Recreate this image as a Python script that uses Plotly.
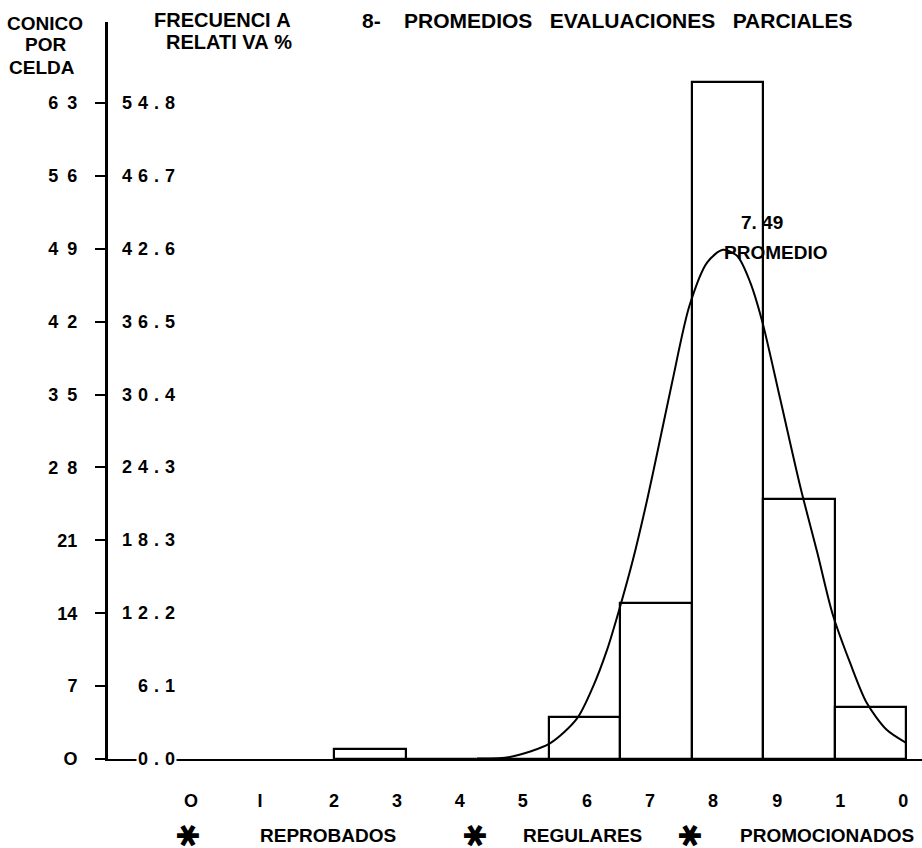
import plotly.graph_objects as go

# ---------------- data ----------------
bin_left = [2, 3, 4, 5, 6, 7, 8, 9]            # class intervals (grade units)
counts = [1, 0, 0, 4, 15, 65, 25, 5]           # cases per cell

curve_x = [4.0, 4.46, 5.02, 5.40, 5.62, 5.82, 6.00, 6.18, 6.38, 6.53, 6.73, 6.97,
           7.22, 7.44, 7.64, 7.82, 7.99, 8.24, 8.52, 8.76, 8.97, 9.22, 9.45, 9.73, 9.99]
curve_y = [0.05, 0.2, 1.5, 3.9, 6.9, 10.5, 14.6, 19.1, 24.9, 29.7, 36.2, 43.5,
           47.7, 48.9, 48.3, 45.8, 42.0, 34.6, 26.2, 19.8, 14.0, 9.2, 5.4, 2.8, 1.6]

count_ticks = [0, 7, 14, 21, 28, 35, 42, 49, 56, 63]
count_labels = ["O", "7", "14", "21", "2 8", "3 5", "4 2", "4 9", "5 6", "6 3"]
rel_labels = ["0.0", "6.1", "12.2", "18.3", "24.3", "30.4", "36.5", "42.6", "46.7", "54.8"]

x_tick_pos = [0, 0.965, 2.0, 2.88, 3.76, 4.64, 5.54, 6.42, 7.30, 8.20, 9.08, 9.96]
x_tick_text = ["O", "I", "2", "3", "4", "5", "6", "7", "8", "9", "1", "0"]

legend_items = ["REPROBADOS", "REGULARES", "PROMOCIONADOS"]
mean_value = "7. 49"
mean_label = "PROMEDIO"
title_text = "8-    PROMEDIOS   EVALUACIONES   PARCIALES"

# ---------------- layout helpers ----------------
W, H = 922, 848
L, R, T, B = 108, 0, 22, 89
PW, PH = W - L - R, H - T - B
FONT = "Liberation Sans"


def px_x(p):
    return (p - L) / PW


def px_y(p):
    return (H - B - p) / PH


def nb(s):
    return s.replace(" ", "\u00a0")


def spaced(s, sep="\u2004"):
    return sep.join(list(s))


fig = go.Figure()

fig.add_trace(go.Bar(
    x=bin_left, y=counts, width=1, offset=0,
    marker=dict(color="rgba(0,0,0,0)", line=dict(color="black", width=2.2)),
    showlegend=False, hoverinfo="skip"))

fig.add_trace(go.Scatter(
    x=curve_x, y=curve_y, mode="lines",
    line=dict(color="black", width=2, shape="spline", smoothing=0.8),
    showlegend=False, hoverinfo="skip"))

annotations = []

# relative-frequency column
for v, lab in zip(count_ticks, rel_labels):
    annotations.append(dict(
        x=px_x(177), xref="paper", y=v, yref="y", xanchor="right", yanchor="middle",
        text=spaced(lab), showarrow=False, bgcolor="white", borderpad=1,
        font=dict(family=FONT, size=18, color="black", weight="bold")))

# axis headers
for txt, x, y in [("CONICO", 45, 24), ("POR", 46, 45), ("CELDA", 42, 67)]:
    annotations.append(dict(x=px_x(x), y=px_y(y), xref="paper", yref="paper",
                            xanchor="center", yanchor="middle", text=txt, showarrow=False,
                            font=dict(family=FONT, size=19, color="black", weight="bold")))
for txt, x, y in [("FRECUENCI A", 222, 20), ("RELATI VA %", 229, 42)]:
    annotations.append(dict(x=px_x(x), y=px_y(y), xref="paper", yref="paper",
                            xanchor="center", yanchor="middle", text=nb(txt), showarrow=False,
                            font=dict(family=FONT, size=20, color="black", weight="bold")))

# title
annotations.append(dict(x=px_x(607), y=px_y(20), xref="paper", yref="paper",
                        xanchor="center", yanchor="middle", text=nb(title_text), showarrow=False,
                        font=dict(family=FONT, size=21, color="black", weight="bold")))

# mean label
annotations.append(dict(x=px_x(762), y=px_y(222), xref="paper", yref="paper",
                        xanchor="center", yanchor="middle", text=nb(mean_value), showarrow=False,
                        font=dict(family=FONT, size=19, color="black", weight="bold")))
annotations.append(dict(x=px_x(775), y=px_y(252), xref="paper", yref="paper",
                        xanchor="center", yanchor="middle", text=mean_label, showarrow=False,
                        font=dict(family=FONT, size=19, color="black", weight="bold")))

# legend row
for star_x, txt_x, txt in zip([188, 475, 690], [328, 582, 827], legend_items):
    annotations.append(dict(x=px_x(star_x), y=px_y(835), xref="paper", yref="paper",
                            xanchor="center", yanchor="middle", text="\u2731", textangle=90,
                            showarrow=False,
                            font=dict(family="DejaVu Sans", size=30, color="black")))
    annotations.append(dict(x=px_x(txt_x), y=px_y(835), xref="paper", yref="paper",
                            xanchor="center", yanchor="middle", text=txt, showarrow=False,
                            font=dict(family=FONT, size=19, color="black", weight="bold")))

fig.update_layout(
    width=W, height=H,
    margin=dict(l=L, r=R, t=T, b=B, pad=0),
    paper_bgcolor="white", plot_bgcolor="white",
    showlegend=False, bargap=0,
    annotations=annotations,
    xaxis=dict(range=[2 + (L - 334) / 71.5, 2 + (W - 334) / 71.5],
               showline=True, linecolor="black", linewidth=2,
               tickmode="array", tickvals=x_tick_pos, ticktext=x_tick_text,
               ticks="", ticklabelstandoff=24,
               tickfont=dict(family=FONT, size=18, color="black", weight="bold"),
               showgrid=False, zeroline=False, fixedrange=True),
    yaxis=dict(range=[0, (H - B - T) / 10.413],
               showline=True, linecolor="black", linewidth=3,
               tickmode="array", tickvals=count_ticks,
               ticktext=[nb(t).replace("\u00a0", "\u2002") for t in count_labels],
               ticks="outside", ticklen=10, tickwidth=2, tickcolor="black",
               ticklabelstandoff=14,
               tickfont=dict(family=FONT, size=18, color="black", weight="bold"),
               showgrid=False, zeroline=False, fixedrange=True),
)

fig.write_html("out.html", config={"displayModeBar": False},
               post_script="document.body.style.margin='0';document.body.style.overflow='hidden';")
